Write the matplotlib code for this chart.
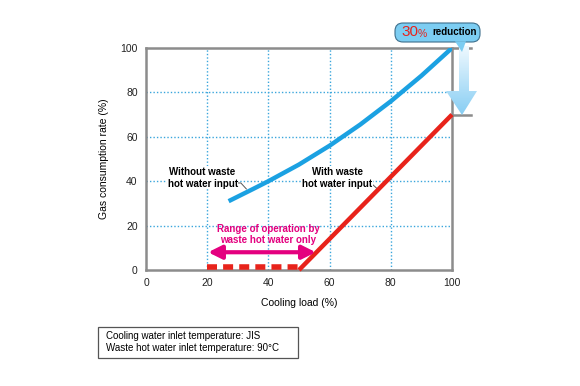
import numpy as np
import matplotlib
matplotlib.use("Agg")
import matplotlib.pyplot as plt
from matplotlib.patches import FancyBboxPatch, Polygon, Rectangle
from matplotlib.lines import Line2D
from matplotlib.colors import LinearSegmentedColormap

# data
load_without = [27, 35, 40, 50, 60, 70, 80, 90, 100]
gas_without = [31, 36.5, 40, 47.5, 56, 65.5, 76, 87.5, 100]
load_with = [50, 100]
gas_with = [0, 70]
waste_only_load = [20, 50]
waste_only_gas = [1.5, 1.5]
xticks = [0, 20, 40, 60, 80, 100]
yticks = [0, 20, 40, 60, 80, 100]

BLUE = "#1ba1e2"
RED = "#e8231b"
GRID = "#3aa6dc"
MAGENTA = "#e4007f"
GRAY = "#8c8c8c"

plt.rcParams['font.family'] = ['Liberation Sans', 'DejaVu Sans']

fig = plt.figure(figsize=(5.8, 3.86), dpi=100)
ax = fig.add_axes([146 / 580, 1 - 270 / 386, 306 / 580, 222 / 386])
ax.set_xlim(0, 100)
ax.set_ylim(0, 100)

for s in ax.spines.values():
    s.set_color(GRAY)
    s.set_linewidth(1.8)
ax.spines['top'].set_visible(False)

# grid
for v in [20, 40, 60, 80]:
    ax.axvline(v, color=GRID, lw=1.0, ls=(0, (1, 1.5)), zorder=1)
    ax.axhline(v, color=GRID, lw=1.0, ls=(0, (1, 1.5)), zorder=1)

# extended top line and 70% tick on the right
ax.add_line(Line2D([0, 1.062], [1, 1], transform=ax.transAxes, color=GRAY, lw=1.8, clip_on=False))
ax.add_line(Line2D([1, 1.062], [0.7, 0.7], transform=ax.transAxes, color=GRAY, lw=1.8, clip_on=False))

ax.set_xticks(xticks)
ax.set_yticks(yticks)
ax.tick_params(length=0, labelsize=7.5, colors="#222222", pad=6)
ax.set_xlabel("Cooling load (%)", fontsize=7.5, labelpad=7)
ax.set_ylabel("Gas consumption rate (%)", fontsize=7.5, labelpad=8)

# curves
ax.plot(load_without, gas_without, color=BLUE, lw=3.2, solid_capstyle='butt', zorder=4)
ax.plot(load_with, gas_with, color=RED, lw=3.2, solid_capstyle='butt', zorder=4, clip_on=False)
ax.plot(waste_only_load, waste_only_gas, color=RED, lw=4, ls=(0, (1.8, 1.1)), zorder=4,
        solid_capstyle='butt')

# range arrow
ax.annotate("", xy=(20.3, 8), xytext=(55.5, 8),
            arrowprops=dict(arrowstyle="<|-|>,head_length=0.8,head_width=0.4",
                            color=MAGENTA, lw=3, shrinkA=0, shrinkB=0), zorder=5)
ax.text(40, 16, "Range of operation by\nwaste hot water only", color=MAGENTA, fontsize=7,
        fontweight='bold', ha='center', va='center', linespacing=1.2, zorder=6)

# leader labels
ax.text(18.5, 41.5, "Without waste\nhot water input", fontsize=7, fontweight='bold',
        ha='center', va='center', linespacing=1.2, zorder=6,
        bbox=dict(fc='white', ec='none', pad=0.5))
ax.plot([7, 31, 32.8], [39.2, 39.2, 36.5], color="#555555", lw=0.7, zorder=3)
ax.text(62.5, 41.5, "With waste\nhot water input", fontsize=7, fontweight='bold',
        ha='center', va='center', linespacing=1.2, zorder=6,
        bbox=dict(fc='white', ec='none', pad=0.5))
ax.plot([51.5, 73.5, 75.8], [39.2, 39.2, 36.3], color="#555555", lw=0.7, zorder=3)

# overlay in pixel coordinates for the callout
ov = fig.add_axes([0, 0, 1, 1], zorder=10)
ov.set_xlim(0, 580)
ov.set_ylim(386, 0)
ov.axis('off')
ov.patch.set_alpha(0)

arrow_pts = [(459, 46), (469, 46), (469, 91), (477, 91), (462, 115), (446, 91), (459, 91)]
poly = Polygon(arrow_pts, closed=True, fc='none', ec='none')
ov.add_patch(poly)
grad = np.linspace(0, 1, 100).reshape(-1, 1)
cmap = LinearSegmentedColormap.from_list("g", ["#f2faff", "#86cdf3"])
im = ov.imshow(grad, extent=[444, 479, 116, 44], aspect='auto', cmap=cmap,
               origin='upper', zorder=2)
im.set_clip_path(poly)

bub = FancyBboxPatch((395, 23), 85, 19, boxstyle="round,pad=0,rounding_size=8",
                     fc="#7ccdf2", ec="#3d6f8c", lw=0.8, zorder=3)
ov.add_patch(bub)
tail = Polygon([(455, 41.3), (466, 41.3), (462, 52)], closed=True,
               fc="#7ccdf2", ec='none', zorder=3)
ov.add_patch(tail)
ov.text(401, 32, "30", color=RED, fontsize=11, ha='left', va='center', zorder=4)
ov.text(418, 34, "%", color=RED, fontsize=7.5, ha='left', va='center', zorder=4)
ov.text(432, 32, "reduction", color="black", fontsize=7, fontweight='bold',
        ha='left', va='center', zorder=4)

# conditions box
fig.text(106 / 580, 1 - 342 / 386,
         "Cooling water inlet temperature: JIS\nWaste hot water inlet temperature: 90°C",
         fontsize=7, ha='left', va='center', linespacing=1.35)
fig.add_artist(Rectangle((98 / 580, 1 - 358 / 386), 200 / 580, 31 / 386,
                         transform=fig.transFigure, fc='none', ec="#555555", lw=0.9))

fig.savefig("out.png", dpi=100)
